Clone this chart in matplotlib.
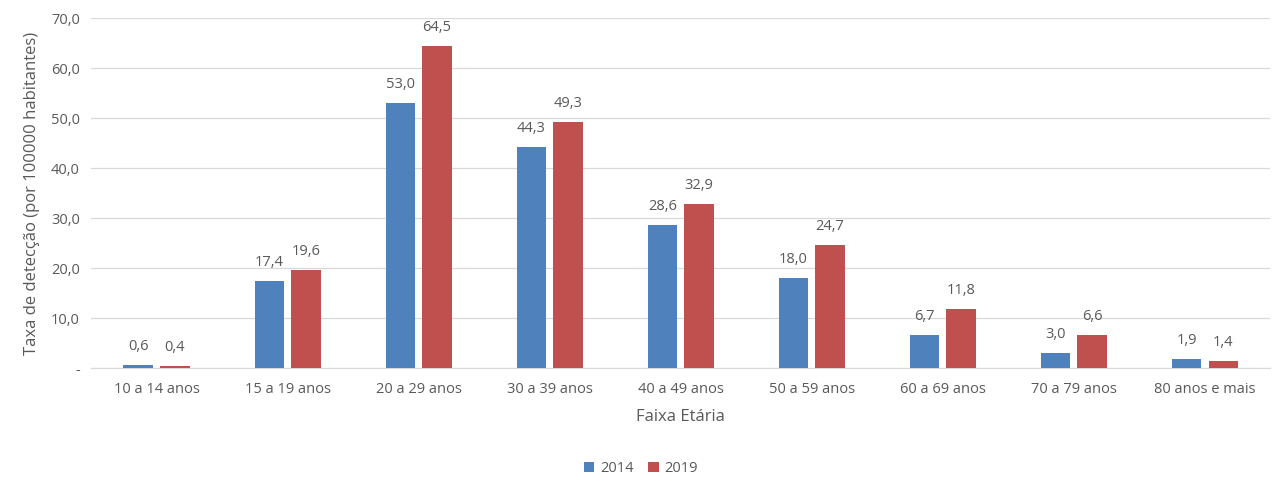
"""
taxa de deteccao por faixa etaria, 2014 x 2019
"""

import numpy as np
import matplotlib
matplotlib.use("Agg")
import matplotlib.pyplot as plt
from matplotlib.ticker import FuncFormatter

faixas = ["10 a 14 anos", "15 a 19 anos", "20 a 29 anos", "30 a 39 anos",
          "40 a 49 anos", "50 a 59 anos", "60 a 69 anos", "70 a 79 anos",
          "80 anos e mais"]
taxa_2014 = [0.6, 17.4, 53.0, 44.3, 28.6, 18.0, 6.7, 3.0, 1.9]
taxa_2019 = [0.4, 19.6, 64.5, 49.3, 32.9, 24.7, 11.8, 6.6, 1.4]

cinza = "#595959"
plt.rcParams["font.family"] = ["Open Sans", "DejaVu Sans"]

fig = plt.figure(figsize=(12.82, 4.92), dpi=100)
ax = fig.add_axes([0.071, 0.252, 0.92, 0.711])

x = np.arange(len(faixas))
w = 0.225
b1 = ax.bar(x - 0.14, taxa_2014, w, color="#4F81BD", label="2014", zorder=3)
b2 = ax.bar(x + 0.14, taxa_2019, w, color="#C0504D", label="2019", zorder=3)

def fmt(v):
    return f"{v:.1f}".replace(".", ",")

for bars in (b1, b2):
    for r in bars:
        ax.text(r.get_x() + r.get_width() / 2, r.get_height() + 2.2,
                fmt(r.get_height()), ha="center", va="bottom",
                fontsize=10.5, color=cinza)

ax.set_xlim(-0.5, len(faixas) - 0.5)
ax.set_ylim(0, 70)
ax.set_yticks(np.arange(0, 71, 10))
ax.yaxis.set_major_formatter(FuncFormatter(lambda v, p: "-" if v == 0 else fmt(v)))
ax.set_xticks(x)
ax.set_xticklabels(faixas)
ax.grid(axis="y", color="#D9D9D9", linewidth=0.9, zorder=0)
for s in ["top", "right", "left"]:
    ax.spines[s].set_visible(False)
ax.spines["bottom"].set_color("#D9D9D9")
ax.tick_params(axis="both", length=0, labelsize=10.5, labelcolor=cinza)
ax.tick_params(axis="x", pad=10)
ax.tick_params(axis="y", pad=8)

ax.set_xlabel("Faixa Etária", fontsize=12, color=cinza, labelpad=9)
ax.set_ylabel("Taxa de detecção (por 100000 habitantes)", fontsize=12,
              color=cinza, labelpad=8)

fig.legend(handles=[b1, b2], labels=["2014", "2019"], loc="center",
           bbox_to_anchor=(0.5, 0.047), ncol=2, frameon=False, fontsize=10.5,
           handlelength=0.7, handleheight=0.7, handletextpad=0.4,
           columnspacing=1.0, labelcolor=cinza)

fig.savefig("out.png", dpi=100)
